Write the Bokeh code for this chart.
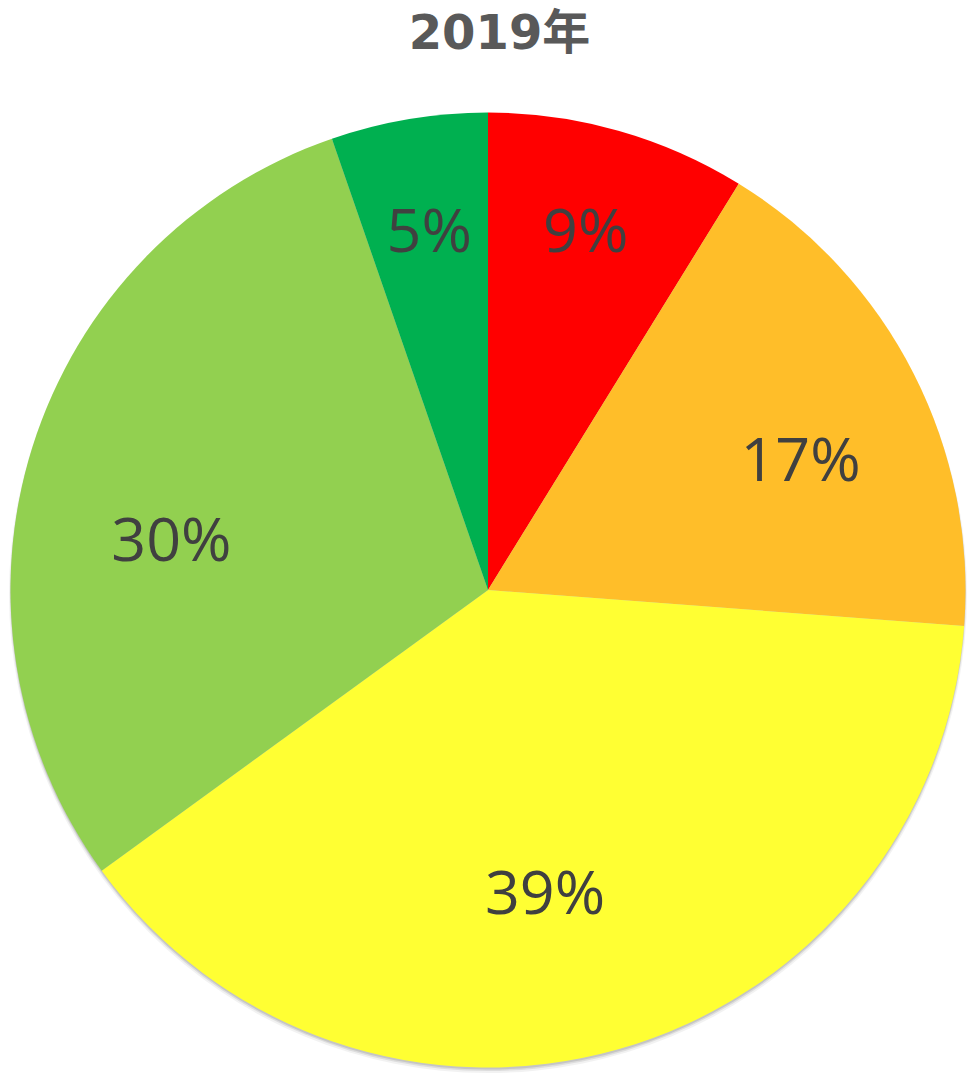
import math
from bokeh.plotting import figure
from bokeh.models import Range1d, ColumnDataSource
from bokeh.core.properties import value
from bokeh.embed import file_html
from bokeh.resources import INLINE

# ---- data ----
title_text = "2019年"
categories = ["A", "B", "C", "D", "E"]
shares = [8.8, 17.4, 38.8, 29.7, 5.3]          # percent, clockwise from 12 o'clock
colors = ["#FF0000", "#FFBE29", "#FFFF33", "#92D050", "#00B050"]

# ---- label placement style (fraction of radius, angle nudge in degrees) ----
label_rfrac = [0.784, 0.711, 0.641, 0.672, 0.767]
label_nudge = [-0.7, 4.0, 5.1, -8.1, 0.3]

W, H = 974, 1079
p = figure(width=W, height=H, output_backend="svg", toolbar_location=None,
           x_range=Range1d(0, W), y_range=Range1d(0, H),
           min_border=0, outline_line_color=None)
p.axis.visible = False
p.grid.visible = False
p.background_fill_color = "white"
p.border_fill_color = "white"

cx, cy, R = 487.5, H - 589.5, 477.5

# soft shadow
for off, rr, a in [(4, R + 1.5, 0.10), (3, R + 0.5, 0.18), (2, R, 0.25)]:
    p.circle(x=[cx], y=[cy - off], radius=rr, fill_color="#7f7f7f",
             fill_alpha=a, line_color=None)

total = sum(shares)
starts, ends, mids = [], [], []
acc = 0.0
for s in shares:
    f0 = acc / total
    f1 = (acc + s) / total
    starts.append(math.pi / 2 - 2 * math.pi * f0)
    ends.append(math.pi / 2 - 2 * math.pi * f1)
    mids.append((f0 + f1) / 2 * 360.0)
    acc += s

src = ColumnDataSource(dict(cat=categories, start=starts, end=ends, color=colors))
p.wedge(x=cx, y=cy, radius=R, start_angle="start", end_angle="end",
        direction="clock", fill_color="color", line_color=None, source=src)

lx, ly, lt = [], [], []
for s, m, rf, nd in zip(shares, mids, label_rfrac, label_nudge):
    ang = math.radians(m + nd)
    lx.append(cx + rf * R * math.sin(ang))
    ly.append(cy + rf * R * math.cos(ang))
    lt.append(f"{round(s)}%")

p.text(x=lx, y=ly, text=lt, text_align="center", text_baseline="middle",
       text_font=value("Open Sans"), text_font_size="61px", text_color="#404040")

p.text(x=[499], y=[H - 31], text=[title_text], text_align="center",
       text_baseline="middle", text_font=value("DejaVu Sans, Noto Sans CJK SC"),
       text_font_style="bold", text_font_size="48px", text_color="#595959")

open("out.html", "w").write(file_html(p, INLINE))
